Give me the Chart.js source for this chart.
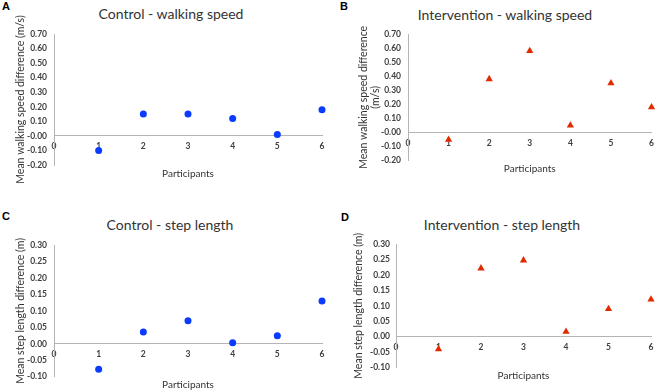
<!DOCTYPE html>
<html>
<head>
<meta charset="utf-8">
<script src="https://cdn.jsdelivr.net/npm/chart.js@4.4.1/dist/chart.umd.min.js"></script>
<style>
  body { margin: 0; background: #fff; }
  #wrap { position: relative; width: 660px; height: 391px; overflow: hidden; font-family: Lato, sans-serif; }
  canvas { position: absolute; }
  .title { position: absolute; width: 300px; text-align: center; font-size: 14px; color: #333; line-height: 16px; }
  .tag { position: absolute; font-family: "Liberation Sans", Arial, sans-serif; font-weight: bold; font-size: 11px; color: #000; line-height: 12px; }
</style>
</head>
<body>
<div id="wrap">
  <div class="tag" style="left:2px;top:0px">A</div>
  <div class="tag" style="left:340px;top:0px">B</div>
  <div class="tag" style="left:2px;top:210px">C</div>
  <div class="tag" style="left:341px;top:211px">D</div>
  <div class="title" style="left:21px;top:6px">Control - walking speed</div>
  <div class="title" style="left:355px;top:7px">Intervention - walking speed</div>
  <div class="title" style="left:20px;top:217px">Control - step length</div>
  <div class="title" style="left:352px;top:217px">Intervention - step length</div>
  <canvas id="chartA" width="330" height="195" style="left:0;top:0"></canvas>
  <canvas id="chartB" width="330" height="195" style="left:330px;top:0"></canvas>
  <canvas id="chartC" width="330" height="196" style="left:0;top:195px"></canvas>
  <canvas id="chartD" width="330" height="196" style="left:330px;top:195px"></canvas>
</div>
<script>
// Participants 1..6, x axis ticks 0..6
const participants = [1, 2, 3, 4, 5, 6];
const xTicks = [0, 1, 2, 3, 4, 5, 6];

// mean difference per participant
const ctrlSpeed = [-0.10, 0.15, 0.15, 0.12, 0.01, 0.18];
const intSpeed  = [-0.05, 0.38, 0.58, 0.05, 0.35, 0.18];
const ctrlStep  = [-0.077, 0.036, 0.070, 0.003, 0.024, 0.130];
const intStep   = [-0.041, 0.222, 0.248, 0.016, 0.090, 0.121];

// y ranges: [min, max, step]
const speedRange = [-0.20, 0.70, 0.10];
const stepRange  = [-0.10, 0.30, 0.05];

const axisGray = "#b4b4b4";
const tickColor = "#404040";
const blue = "#0b3bff";
const red = "#e02b00";

function makePanel(id, values, isCtrl, range, yTitle, lay) {
  const [yMin, yMax, yStep] = range;
  const canvas = document.getElementById(id);
  const H = canvas.height;
  new Chart(canvas, {
    type: "scatter",
    data: {
      datasets: [{
        data: participants.map((p, i) => ({ x: p, y: values[i] })),
        pointStyle: isCtrl ? "circle" : "triangle",
        pointRadius: isCtrl ? 3.5 : 4.2,
        backgroundColor: isCtrl ? blue : red,
        borderColor: isCtrl ? blue : red,
        borderWidth: 0,
        clip: false
      }]
    },
    options: {
      responsive: false,
      animation: false,
      layout: { padding: { top: lay.top, right: lay.right, left: 0, bottom: 0 } },
      plugins: { legend: { display: false }, tooltip: { enabled: false } },
      scales: {
        x: {
          type: "linear",
          position: { y: 0 },
          min: 0, max: 6,
          afterBuildTicks: s => { s.ticks = xTicks.map(v => ({ value: v })); },
          grid: { display: false, drawTicks: false },
          border: { color: axisGray, width: 1 },
          ticks: { padding: lay.xPad, color: tickColor, font: { family: "Lato", size: 8.5, weight: "bold" } }
        },
        x2: {
          type: "linear",
          position: "bottom",
          min: 0, max: 6,
          afterFit: s => { s.height = H - lay.bottom; },
          ticks: { display: false },
          grid: { display: false, drawTicks: false },
          border: { display: false },
          title: {
            display: true, text: "Participants", color: "#333",
            font: { family: "Lato", size: 10 },
            padding: { top: 0, bottom: lay.pTitle }
          }
        },
        y: {
          min: yMin, max: yMax,
          afterFit: s => { s.width = lay.left; },
          grid: { display: false, drawTicks: false },
          border: { color: axisGray, width: 1 },
          ticks: {
            stepSize: yStep, padding: lay.yPad, color: tickColor,
            font: { family: "Lato", size: 8.5, weight: "bold" },
            callback: v => v.toFixed(2)
          },
          title: {
            display: true, text: yTitle, color: "#333",
            font: { family: "Lato", size: 10.5, lineHeight: 1.12 },
            padding: { top: lay.yTitle, bottom: 0 }
          }
        }
      }
    }
  });
}

makePanel("chartA", ctrlSpeed, true, speedRange, "Mean walking speed difference (m/s)",
  { top: 34, bottom: 165, left: 54, right: 8, yTitle: 15, pTitle: 15, xPad: 5, yPad: 7 });
makePanel("chartB", intSpeed, false, speedRange, ["Mean walking speed difference", "(m/s)"],
  { top: 34, bottom: 160.7, left: 78, right: 4, yTitle: 28, pTitle: 20.7, xPad: 6, yPad: 7 });
makePanel("chartC", ctrlStep, true, stepRange, "Mean step length difference (m)",
  { top: 50, bottom: 181.7, left: 54, right: 8, yTitle: 15, pTitle: 0, xPad: 5, yPad: 7 });
makePanel("chartD", intStep, false, stepRange, "Mean step length difference (m)",
  { top: 49.3, bottom: 172.3, left: 66, right: 9, yTitle: 23, pTitle: 9, xPad: 6, yPad: 6 });
</script>
</body>
</html>
